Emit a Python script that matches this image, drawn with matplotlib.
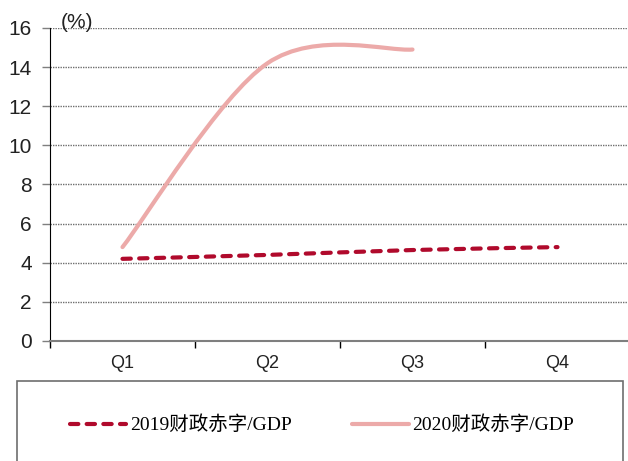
import matplotlib
matplotlib.use("Agg")
import matplotlib.pyplot as plt
from matplotlib.path import Path
from matplotlib.patches import PathPatch, Rectangle
from matplotlib.lines import Line2D

quarters = ["Q1", "Q2", "Q3", "Q4"]
deficit_2019 = [4.2, 4.4, 4.65, 4.8]
deficit_2020 = [4.8, 14.2, 14.9]
label_2019 = "2019财政赤字/GDP"
label_2020 = "2020财政赤字/GDP"

red_dark = "#B00A2C"
red_light = "#ECAAA9"
dash = (0, (2.0, 2.0))


def smooth_path(xs, ys):
    # Bezier path through the points, tangents from the neighbours (tension 1/6)
    pts = list(zip(xs, ys))
    n = len(pts)
    verts = [pts[0]]
    codes = [Path.MOVETO]
    for i in range(n - 1):
        p0 = pts[max(i - 1, 0)]
        p1 = pts[i]
        p2 = pts[i + 1]
        p3 = pts[min(i + 2, n - 1)]
        c1 = (p1[0] + (p2[0] - p0[0]) / 6, p1[1] + (p2[1] - p0[1]) / 6)
        c2 = (p2[0] - (p3[0] - p1[0]) / 6, p2[1] - (p3[1] - p1[1]) / 6)
        verts += [c1, c2, p2]
        codes += [Path.CURVE4] * 3
    return Path(verts, codes)


fig = plt.figure(figsize=(6.28, 4.61), dpi=100)
ax = fig.add_axes([50 / 628, 1 - 341 / 461, 580 / 628, 313 / 461])

x = list(range(1, len(quarters) + 1))
ax.add_patch(PathPatch(smooth_path(x, deficit_2019), fill=False, edgecolor=red_dark,
                       lw=3.0, linestyle=dash, capstyle="round", zorder=3))
ax.add_patch(PathPatch(smooth_path(x[:len(deficit_2020)], deficit_2020), fill=False,
                       edgecolor=red_light, lw=3.0, capstyle="round", zorder=3))

ax.set_xlim(0.5, 4.5)
ax.set_ylim(0, 16)
ax.set_yticks(range(0, 17, 2))
ax.yaxis.grid(True, color="#6f6f6f", linestyle=(0, (1, 0.8)), lw=1.0)
ax.set_axisbelow(True)

ax.set_xticks([0.5, 1.5, 2.5, 3.5])
ax.set_xticklabels([])
ax.set_xticks(x, minor=True)
ax.set_xticklabels(quarters, minor=True)
ax.tick_params(axis="x", which="major", length=5, width=1, color="black",
               direction="out")
ax.tick_params(axis="x", which="minor", length=0, pad=10, labelsize=13)
ax.tick_params(axis="y", length=6, width=1, color="#7f7f7f", labelsize=15, pad=7)

for lab in ax.get_xticklabels(minor=True) + ax.get_yticklabels():
    lab.set_fontfamily("Liberation Sans")
    lab.set_color("#222222")

ax.spines[["top", "right"]].set_visible(False)
ax.spines["left"].set_color("black")
ax.spines["bottom"].set_color("#7f7f7f")
ax.spines["bottom"].set_linewidth(1.5)

fig.text(61 / 628, 1 - 22 / 461, "(%)", fontsize=15, family="Liberation Sans",
         color="#222222", va="center", ha="left")

# legend frame, open at the bottom of the canvas
fig.patches.append(Rectangle((17 / 628, -0.05), 606 / 628, 0.05 + 80 / 461,
                             transform=fig.transFigure, fill=False,
                             edgecolor="#6e6e6e", lw=1.2))

handles = [
    Line2D([], [], color=red_dark, lw=3.0, linestyle=dash, dash_capstyle="round"),
    Line2D([], [], color=red_light, lw=3.0, solid_capstyle="round"),
]
fig.legend(handles, [label_2019, label_2020], loc="center left",
           bbox_to_anchor=(70 / 628, 1 - 425 / 461), ncol=2, frameon=False,
           borderpad=0, borderaxespad=0, handlelength=2.9, handletextpad=0.2,
           columnspacing=3.1,
           prop={"family": ["Liberation Serif", "Noto Sans CJK SC"], "size": 14})

fig.savefig("out.png", dpi=100)
